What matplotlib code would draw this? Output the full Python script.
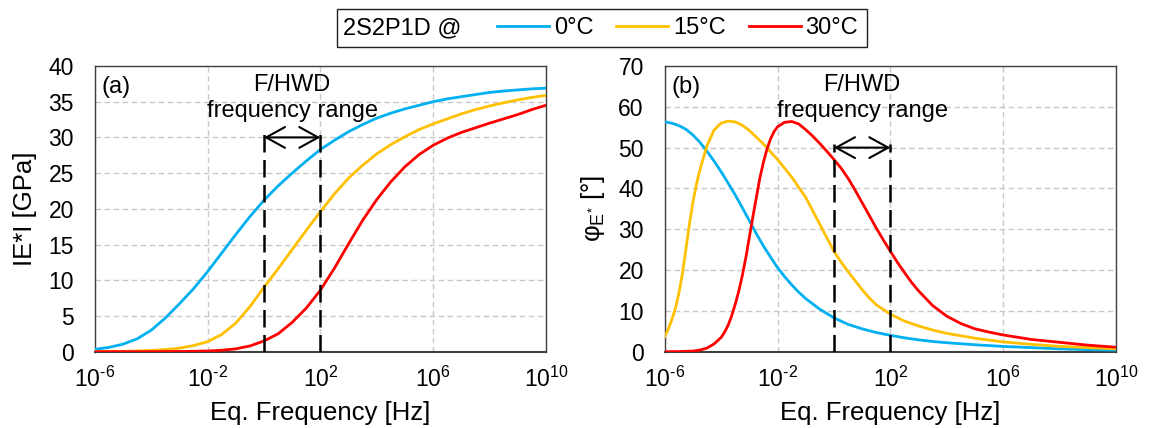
import numpy as np
import matplotlib
matplotlib.use("Agg")
import matplotlib.pyplot as plt
from matplotlib.lines import Line2D
from matplotlib.patches import Rectangle
from matplotlib.ticker import FixedLocator, NullLocator, FuncFormatter

plt.rcParams['font.family'] = ['Liberation Sans', 'DejaVu Sans']
plt.rcParams['mathtext.fontset'] = 'custom'
plt.rcParams['mathtext.rm'] = 'Liberation Sans'
plt.rcParams['mathtext.it'] = 'Liberation Sans:italic'
plt.rcParams['mathtext.bf'] = 'Liberation Sans:bold'

# ---------------- data ----------------
temps = ['0°C', '15°C', '30°C']
colors = ['#00B0F0', '#FFC000', '#FF0000']

# |E*| [GPa] vs log10(frequency [Hz])
E_0_exp = [-6, -5.5, -5, -4.5, -4, -3.5, -3, -2.5, -2, -1.5, -1, -0.5, 0, 0.5, 1, 1.5, 2, 2.5, 3,
           3.5, 4, 4.5, 5, 5.5, 6, 6.5, 7, 7.5, 8, 8.5, 9, 9.5, 10]
E_0 = [0.33, 0.6, 1.05, 1.8, 3.0, 4.7, 6.7, 8.8, 11.2, 13.8, 16.4, 18.9, 21.2, 23.2, 25.0, 26.7, 28.3,
       29.6, 30.8, 31.8, 32.7, 33.4, 34.0, 34.5, 35.0, 35.4, 35.7, 36.0, 36.3, 36.5, 36.65, 36.8, 36.9]

E_15_exp = [-6, -5, -4.5, -4, -3.5, -3, -2.5, -2, -1.5, -1, -0.5, 0, 0.5, 1, 1.5, 2, 2.5, 3, 3.5,
            4, 4.5, 5, 5.5, 6, 6.5, 7, 7.5, 8, 8.5, 9, 9.5, 10]
E_15 = [0.02, 0.05, 0.1, 0.17, 0.3, 0.5, 0.85, 1.4, 2.4, 4.0, 6.3, 9.0, 11.6, 14.3, 17.0, 19.6, 22.1,
        24.3, 26.1, 27.7, 29.0, 30.1, 31.1, 31.9, 32.6, 33.3, 33.9, 34.4, 34.85, 35.25, 35.6, 35.9]

E_30_exp = [-6, -4, -3, -2.5, -2, -1.5, -1, -0.5, 0, 0.5, 1, 1.5, 2, 2.5, 3, 3.5, 4, 4.5, 5, 5.5,
            6, 6.5, 7, 7.5, 8, 8.5, 9, 9.5, 10]
E_30 = [0.0, 0.01, 0.03, 0.06, 0.1, 0.2, 0.4, 0.8, 1.5, 2.5, 4.1, 6.1, 8.6, 11.7, 15.1, 18.4, 21.3,
        23.8, 25.9, 27.6, 28.9, 29.9, 30.7, 31.35, 32.0, 32.6, 33.2, 33.9, 34.5]

# phase angle [deg] vs log10(frequency [Hz])
P_0_exp = [-6, -5.75, -5.5, -5.25, -5, -4.75, -4.5, -4.25, -4, -3.75, -3.5, -3.25, -3, -2.75, -2.5,
           -2.25, -2, -1.75, -1.5, -1.25, -1, -0.5, 0, 0.5, 1, 1.5, 2, 2.5, 3, 3.5, 4, 5, 6, 7, 8,
           9, 10]
P_0 = [56.3, 56.0, 55.4, 54.5, 53.1, 51.3, 49.1, 46.7, 44.1, 41.3, 38.4, 35.3, 32.1, 28.9, 25.9,
       23.2, 20.6, 18.4, 16.4, 14.6, 13.0, 10.4, 8.3, 6.7, 5.6, 4.7, 4.0, 3.4, 2.9, 2.5, 2.2, 1.7,
       1.3, 1.0, 0.7, 0.5, 0.4]

P_15_exp = [-6, -5.875, -5.75, -5.625, -5.5, -5.375, -5.25, -5.125, -5, -4.875, -4.75, -4.5, -4.25,
            -4, -3.75, -3.5, -3.25, -3, -2.5, -2, -1.5, -1, -0.5, 0, 0.25, 0.5, 0.75, 1, 1.25, 1.5,
            2, 2.5, 3, 3.5, 4, 5, 6, 7, 8, 9, 10]
P_15 = [3.7, 5.5, 7.8, 10.5, 14.2, 19.0, 25.0, 31.2, 36.6, 41.0, 44.6, 50.5, 54.3, 56.0, 56.5, 56.3,
        55.5, 54.2, 50.9, 47.1, 42.8, 37.8, 31.2, 24.6, 22.0, 19.6, 17.4, 15.2, 13.2, 11.5, 9.2, 7.5,
        6.3, 5.3, 4.5, 3.3, 2.4, 1.8, 1.3, 1.0, 0.7]

P_30_exp = [-6, -5.5, -5, -4.75, -4.5, -4.25, -4, -3.875, -3.75, -3.625, -3.5, -3.375, -3.25, -3.125,
            -3, -2.875, -2.75, -2.625, -2.5, -2.375, -2.25, -2.125, -2, -1.75, -1.5, -1.25, -1,
            -0.75, -0.5, -0.25, 0, 0.25, 0.5, 0.75, 1, 1.25, 1.5, 1.75, 2, 2.25, 2.5, 2.75, 3, 3.5,
            4, 4.5, 5, 5.5, 6, 7, 8, 9, 10]
P_30 = [0.0, 0.03, 0.15, 0.4, 0.9, 1.9, 3.5, 4.8, 6.5, 8.8, 11.6, 14.8, 18.6, 23.0, 28.0, 33.0, 37.8,
        42.6, 46.4, 49.6, 52.1, 53.9, 55.1, 56.2, 56.4, 55.8, 54.4, 52.8, 51.0, 49.1, 47.1, 45.0,
        42.5, 39.6, 36.5, 33.4, 30.3, 27.4, 24.6, 21.9, 19.4, 17.0, 14.9, 11.3, 8.7, 6.9, 5.6, 4.8,
        4.1, 3.0, 2.3, 1.6, 1.1]

x_tick_exps = [-6, -2, 2, 6, 10]
E_ticks = [0, 5, 10, 15, 20, 25, 30, 35, 40]
P_ticks = [0, 10, 20, 30, 40, 50, 60, 70]

fhwd_range = [1.0, 100.0]   # Hz
arrow_level_E = 30
arrow_level_P = 50
# --------------------------------------

E_series = [(E_0_exp, E_0), (E_15_exp, E_15), (E_30_exp, E_30)]
P_series = [(P_0_exp, P_0), (P_15_exp, P_15), (P_30_exp, P_30)]

W, H = 1150, 428
fig = plt.figure(figsize=(W / 100, H / 100), dpi=100)

ax_l, ax_w = 94.7, 451.3
ax_top, ax_bot = 66.0, 351.7
axE = fig.add_axes([ax_l / W, 1 - ax_bot / H, ax_w / W, (ax_bot - ax_top) / H])
axP = fig.add_axes([664.7 / W, 1 - ax_bot / H, ax_w / W, (ax_bot - ax_top) / H])

FS_TICK = 16.5
FS_LAB = 18.5
FS_TXT = 17


def pow_label(v, pos):
    e = int(round(np.log10(v)))
    return '10$^{\\mathregular{%s}}$' % str(e).replace('-', '\u2010')


def style(ax, yticks, ymax):
    ax.set_xscale('log')
    ax.set_xlim(10.0 ** x_tick_exps[0], 10.0 ** x_tick_exps[-1])
    ax.set_ylim(0, ymax)
    ax.xaxis.set_major_locator(FixedLocator([10.0 ** e for e in x_tick_exps]))
    ax.xaxis.set_minor_locator(NullLocator())
    ax.xaxis.set_major_formatter(FuncFormatter(pow_label))
    ax.set_yticks(yticks)
    ax.tick_params(axis='both', length=0, labelsize=FS_TICK)
    ax.tick_params(axis='y', pad=15)
    ax.tick_params(axis='x', pad=11)
    ax.grid(True, which='major', color='#c8c8c8', linestyle=(0, (4, 2.5)), linewidth=1.0)
    ax.set_axisbelow(True)
    for s in ax.spines.values():
        s.set_color('#404040')
        s.set_linewidth(1.0)
    ax.spines['bottom'].set_linewidth(1.5)
    ax.set_xlabel('Eq. Frequency [Hz]', fontsize=FS_LAB, labelpad=6)


style(axE, E_ticks, 40)
style(axP, P_ticks, 70)

for (ex, vals), c in zip(E_series, colors):
    axE.plot(10.0 ** np.array(ex), vals, color=c, lw=2.0, solid_joinstyle='round', zorder=3)
for (ex, vals), c in zip(P_series, colors):
    axP.plot(10.0 ** np.array(ex), vals, color=c, lw=2.0, solid_joinstyle='round', zorder=3)

axE.set_ylabel('IE*I [GPa]', fontsize=FS_LAB)
axP.set_ylabel('φ$_{\\mathregular{E}^{\\mathregular{*}}}$ [°]', fontsize=FS_LAB)
axE.yaxis.set_label_coords(-0.128, 0.5)
axP.yaxis.set_label_coords(-0.128, 0.5)

for ax, lvl, tag, ymax in [(axE, arrow_level_E, '(a)', 40), (axP, arrow_level_P, '(b)', 70)]:
    ax.vlines(fhwd_range, 0, lvl + 0.012 * ymax, colors='black', linestyles=(0, (7, 3)),
              lw=1.8, zorder=4)
    ax.annotate('', xy=(fhwd_range[1], lvl), xytext=(fhwd_range[0], lvl),
                arrowprops=dict(arrowstyle='<->,head_length=0.4,head_width=0.22', color='black',
                                lw=1.5, mutation_scale=34, shrinkA=0, shrinkB=0), zorder=5)
    xc = np.sqrt(fhwd_range[0] * fhwd_range[1])
    ax.text(xc, 0.912, 'F/HWD', transform=ax.get_xaxis_transform(), ha='center',
            va='baseline', fontsize=FS_TXT)
    ax.text(xc, 0.821, 'frequency range', transform=ax.get_xaxis_transform(), ha='center',
            va='baseline', fontsize=FS_TXT)
    ax.text(0.015, 0.965, tag, transform=ax.transAxes, ha='left', va='top', fontsize=FS_TXT)

# legend box
box_x0, box_x1, box_y0, box_y1 = 336.5, 867.0, 9.0, 46.7
fig.patches.append(Rectangle((box_x0 / W, 1 - box_y1 / H), (box_x1 - box_x0) / W,
                             (box_y1 - box_y0) / H, transform=fig.transFigure,
                             fill=False, edgecolor='#202020', lw=1.0))
leg_yc = 1 - 28.3 / H
fig.text(343.4 / W, leg_yc, '2S2P1D @', ha='left', va='center', fontsize=FS_TXT)
handles = [Line2D([], [], color=c, lw=2.0) for c in colors]
fig.legend(handles, temps, loc='center left', bbox_to_anchor=(497.4 / W, leg_yc),
           ncol=3, frameon=False, fontsize=FS_TXT, handlelength=2.2, handletextpad=0.2,
           columnspacing=0.97, borderpad=0, borderaxespad=0)

fig.savefig('out.png', dpi=100)
